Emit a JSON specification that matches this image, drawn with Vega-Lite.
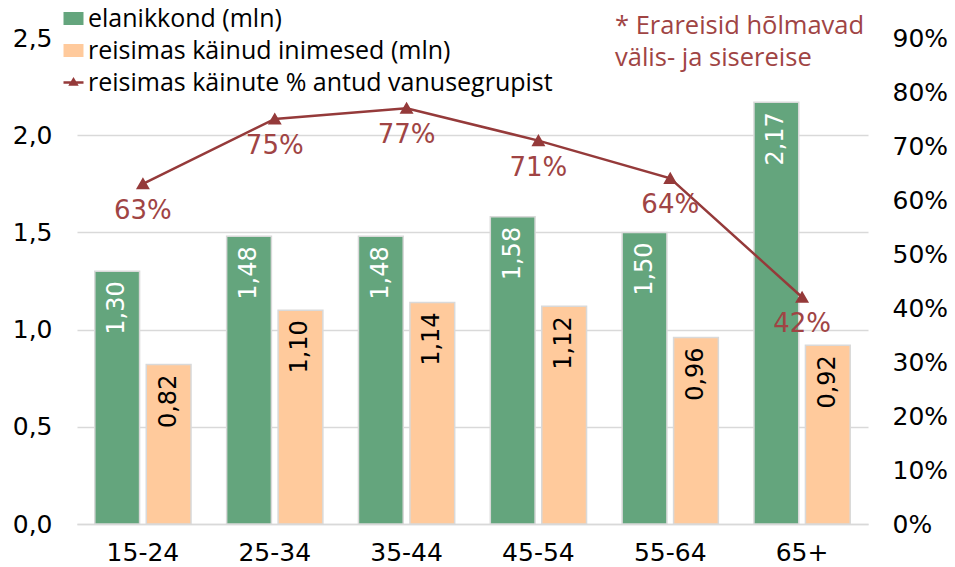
{
  "$schema": "https://vega.github.io/schema/vega-lite/v6.json",
  "width": 791,
  "height": 486,
  "autosize": {"type": "none"},
  "padding": {"left": 77, "top": 38, "right": 87, "bottom": 43},
  "background": "white",
  "config": {
    "locale": {"number": {"decimal": ",", "thousands": " ", "grouping": [3], "currency": ["", " €"]}},
    "font": "DejaVu Sans",
    "view": {"stroke": null}
  },
  "title": {
    "text": ["* Erareisid hõlmavad", "välis- ja sisereise"],
    "orient": "top",
    "anchor": "start",
    "frame": "group",
    "align": "left",
    "baseline": "top",
    "dx": 538,
    "dy": 61,
    "offset": -4,
    "fontSize": 25.5,
    "fontWeight": "normal",
    "lineHeight": 32,
    "color": "#a04444",
    "font": "Open Sans"
  },
  "datasets": {
    "bars": [
      {"age": "15-24", "series": "elanikkond (mln)", "value": 1.30},
      {"age": "15-24", "series": "reisimas käinud inimesed (mln)", "value": 0.82},
      {"age": "25-34", "series": "elanikkond (mln)", "value": 1.48},
      {"age": "25-34", "series": "reisimas käinud inimesed (mln)", "value": 1.10},
      {"age": "35-44", "series": "elanikkond (mln)", "value": 1.48},
      {"age": "35-44", "series": "reisimas käinud inimesed (mln)", "value": 1.14},
      {"age": "45-54", "series": "elanikkond (mln)", "value": 1.58},
      {"age": "45-54", "series": "reisimas käinud inimesed (mln)", "value": 1.12},
      {"age": "55-64", "series": "elanikkond (mln)", "value": 1.50},
      {"age": "55-64", "series": "reisimas käinud inimesed (mln)", "value": 0.96},
      {"age": "65+", "series": "elanikkond (mln)", "value": 2.17},
      {"age": "65+", "series": "reisimas käinud inimesed (mln)", "value": 0.92}
    ],
    "pct": [
      {"age": "15-24", "pct": 0.63},
      {"age": "25-34", "pct": 0.75},
      {"age": "35-44", "pct": 0.77},
      {"age": "45-54", "pct": 0.71},
      {"age": "55-64", "pct": 0.64},
      {"age": "65+", "pct": 0.42}
    ]
  },
  "encoding": {
    "x": {
      "field": "age",
      "type": "nominal",
      "sort": null,
      "scale": {"paddingInner": 0.27, "paddingOuter": 0.135},
      "axis": {
        "title": null,
        "labelAngle": 0,
        "labelFontSize": 25,
        "labelColor": "#000000",
        "labelPadding": 16,
        "ticks": false,
        "domain": true,
        "domainColor": "#d9d9d9",
        "domainWidth": 1.5
      }
    }
  },
  "layer": [
    {
      "data": {"name": "bars"},
      "layer": [
        {
          "mark": {"type": "bar", "stroke": "#d9d9d9", "strokeWidth": 1.5},
          "encoding": {
            "xOffset": {"field": "series", "type": "nominal", "scale": {"paddingInner": 0.13}},
            "y": {
              "field": "value",
              "type": "quantitative",
              "scale": {"domain": [0, 2.5], "nice": false},
              "axis": {
                "title": null,
                "values": [0, 0.5, 1, 1.5, 2, 2.5],
                "format": ".1f",
                "labelFontSize": 25,
                "labelColor": "#000000",
                "labelPadding": 25,
                "ticks": false,
                "domain": false,
                "grid": true,
                "gridColor": {"condition": {"test": "datum.value >= 2.4", "value": "transparent"}, "value": "#d9d9d9"},
                "gridWidth": 1.5
              }
            },
            "color": {
              "field": "series",
              "type": "nominal",
              "scale": {"domain": ["elanikkond (mln)", "reisimas käinud inimesed (mln)"], "range": ["#64a57d", "#ffca9c"]},
              "legend": {
                "title": null,
                "orient": "none",
                "legendX": -16,
                "legendY": -32,
                "direction": "vertical",
                "labelFontSize": 25,
                "labelFont": "Open Sans",
                "labelColor": "#000000",
                "labelLimit": 0,
                "labelOffset": 2,
                "rowPadding": 6,
                "padding": 0,
                "fillColor": "white",
                "symbolType": "M-1,-0.65H1V0.65H-1Z",
                "symbolSize": 400,
                "symbolStrokeWidth": 0
              }
            }
          }
        },
        {
          "mark": {"type": "text", "angle": 270, "align": "right", "baseline": "middle", "dx": -10, "fontSize": 24},
          "encoding": {
            "xOffset": {"field": "series", "type": "nominal"},
            "y": {"field": "value", "type": "quantitative"},
            "text": {"field": "value", "type": "quantitative", "format": ".2f"},
            "color": {"condition": {"test": "datum.series == 'elanikkond (mln)'", "value": "#ffffff"}, "value": "#000000"}
          }
        }
      ]
    },
    {
      "data": {"name": "pct"},
      "layer": [
        {
          "mark": {"type": "line", "strokeWidth": 2.5, "point": {"shape": "triangle-up", "size": 110, "filled": true, "color": "#953a3a"}},
          "encoding": {
            "y": {
              "field": "pct",
              "type": "quantitative",
              "scale": {"domain": [0, 0.9], "nice": false},
              "axis": {
                "orient": "right",
                "title": null,
                "values": [0, 0.1, 0.2, 0.3, 0.4, 0.5, 0.6, 0.7, 0.8, 0.9],
                "format": ".0%",
                "labelFontSize": 25,
                "labelColor": "#000000",
                "labelPadding": 24,
                "ticks": false,
                "domain": false,
                "grid": false
              }
            },
            "stroke": {
              "datum": "reisimas käinute % antud vanusegrupist",
              "scale": {"range": ["#953a3a"]},
              "legend": {
                "title": null,
                "orient": "none",
                "legendX": -16,
                "legendY": 32,
                "labelFontSize": 25,
                "labelFont": "Open Sans",
                "labelColor": "#000000",
                "labelLimit": 0,
                "labelOffset": 2,
                "padding": 0,
                "fillColor": "white",
                "symbolType": "M-1,0H1M-0.3,0.2L0,-0.3L0.3,0.2Z",
                "symbolSize": 400,
                "symbolFillColor": "#953a3a",
                "symbolStrokeWidth": 2.5
              }
            }
          }
        },
        {
          "mark": {"type": "text", "dy": 27, "fontSize": 26, "color": "#a04444"},
          "encoding": {
            "y": {"field": "pct", "type": "quantitative"},
            "text": {"field": "pct", "type": "quantitative", "format": ".0%"}
          }
        }
      ]
    }
  ],
  "resolve": {"scale": {"y": "independent"}}
}
